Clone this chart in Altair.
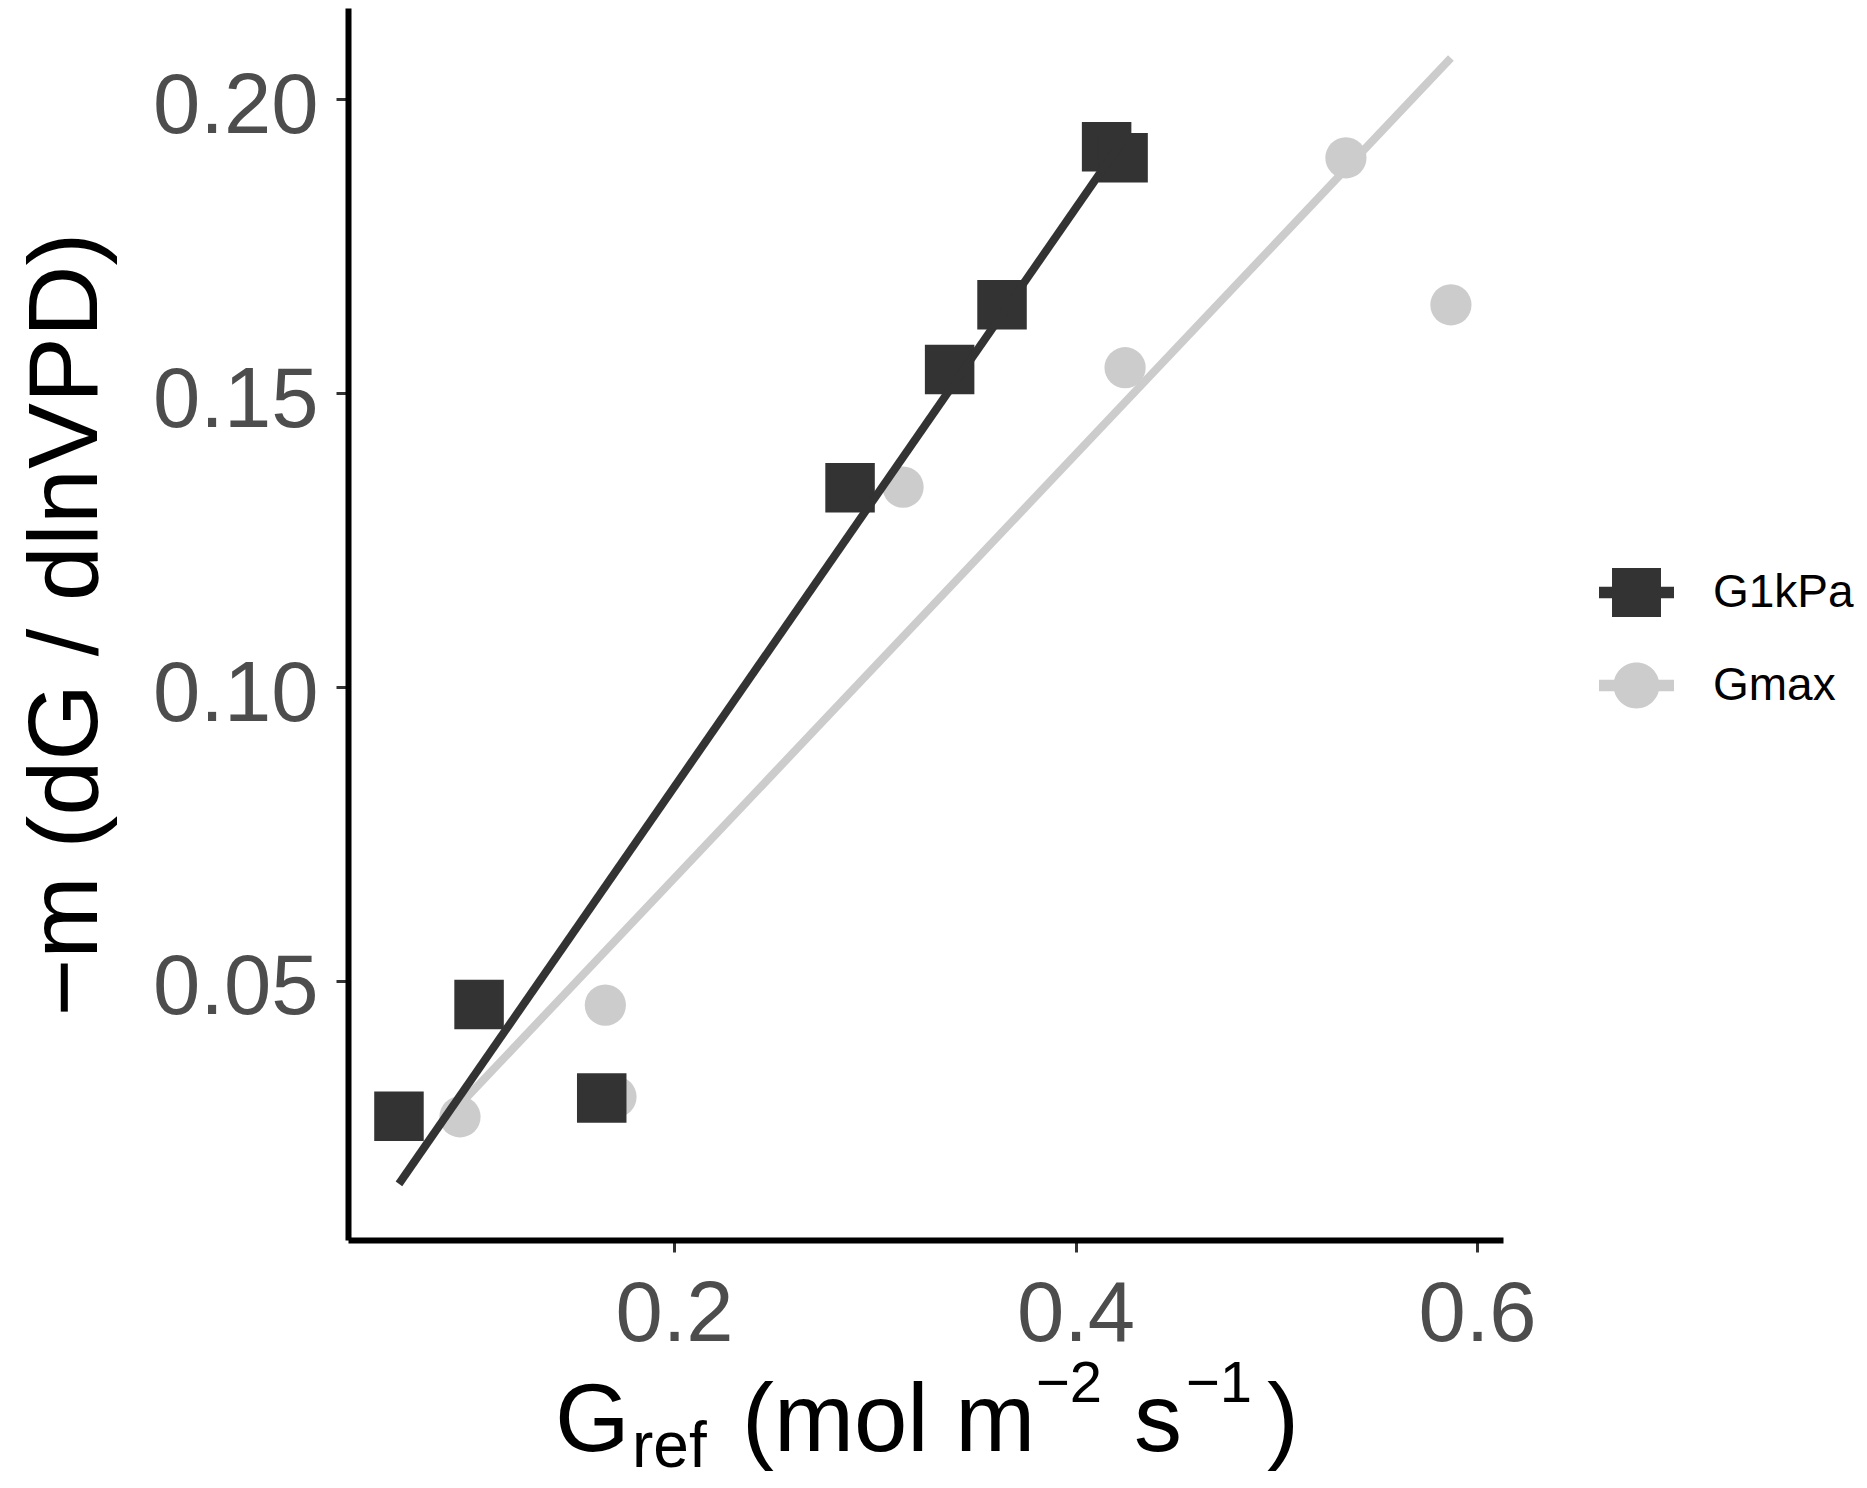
import altair as alt
import pandas as pd

# ---- data ----
series_names = ["G1kPa", "Gmax"]
g1kpa_x = [0.0630, 0.1029, 0.1640, 0.2877, 0.3373, 0.3634, 0.4155, 0.4237]
g1kpa_y = [0.0270, 0.0460, 0.0301, 0.1339, 0.1540, 0.1650, 0.1919, 0.1900]
gmax_x = [0.0934, 0.1658, 0.1711, 0.3141, 0.4247, 0.5347, 0.5870, 0.4155]
gmax_y = [0.0269, 0.0459, 0.0303, 0.1340, 0.1543, 0.1900, 0.1650, 0.1919]
x_ticks = [0.2, 0.4, 0.6]
y_ticks = [0.05, 0.10, 0.15, 0.20]
y_title = "\u2212m (dG / dlnVPD)"
x_title_parts = ["G", "ref", "(mol m", "\u22122", "s", "\u22121", ")"]

df = pd.DataFrame({
    "x": gmax_x + g1kpa_x,
    "y": gmax_y + g1kpa_y,
    "series": ["Gmax"] * len(gmax_x) + ["G1kPa"] * len(g1kpa_x),
})

FONT = "Liberation Sans"
DARK = "#333333"
LIGHT = "#CCCCCC"

xscale = alt.Scale(domain=[0.03761, 0.61295], nice=False, zero=False)
yscale = alt.Scale(domain=[0.00595, 0.21548], nice=False, zero=False)

xaxis = alt.Axis(values=x_ticks, format=".1f", title=None, grid=False,
                 labelFont=FONT, labelFontSize=85, labelColor="#4D4D4D",
                 labelBaseline="alphabetic", labelPadding=88,
                 labelFlush=False, labelOverlap=False,
                 tickSize=12, tickWidth=3, tickColor=DARK,
                 domainColor="black", domainWidth=6)
yaxis = alt.Axis(values=y_ticks, format=".2f", grid=False,
                 labelFont=FONT, labelFontSize=85, labelColor="#4D4D4D",
                 labelBaseline="alphabetic", labelOffset=33, labelPadding=18,
                 labelFlush=False, labelOverlap=False,
                 tickSize=12, tickWidth=3, tickColor=DARK,
                 domainColor="black", domainWidth=6,
                 title=y_title, titleFont=FONT, titleFontSize=99,
                 titleFontWeight="normal", titleColor="black",
                 titleAngle=270, titleX=-252, titleY=616,
                 titleAlign="center", titleBaseline="alphabetic")

X = alt.X("x:Q", scale=xscale, axis=xaxis)
Y = alt.Y("y:Q", scale=yscale, axis=yaxis)

base = alt.Chart(df)

gray_pts = base.transform_filter(alt.datum.series == "Gmax").mark_point(
    shape="circle", filled=True, size=1700, color=LIGHT, opacity=1, strokeWidth=0
).encode(x=X, y=Y)

black_pts = base.transform_filter(alt.datum.series == "G1kPa").mark_point(
    shape="square", filled=True, size=2450, color=DARK, opacity=1, strokeWidth=0
).encode(x=X, y=Y)

gray_line = base.transform_filter(alt.datum.series == "Gmax").transform_regression(
    "x", "y"
).mark_line(color=LIGHT, strokeWidth=8).encode(x=X, y=Y)

black_line = base.transform_filter(alt.datum.series == "G1kPa").transform_regression(
    "x", "y"
).mark_line(color=DARK, strokeWidth=8).encode(x=X, y=Y)

# legend symbols: point with a line through it (as in ggplot keys)
sq_path = "M-1,-0.155H1V0.155H-1Z M-0.653,-0.653H0.653V0.653H-0.653Z"
circ_path = ("M-1,-0.155H1V0.155H-1Z M-0.613,0 A0.613,0.613 0 1,1 0.613,0 "
             "A0.613,0.613 0 1,1 -0.613,0 Z")
leg = alt.Legend(title=None, orient="none", legendX=1251, legendY=547,
                 labelFont=FONT, labelFontSize=46, labelColor="black",
                 labelOffset=39, rowPadding=31, symbolSize=5625,
                 symbolStrokeWidth=0, padding=0)
legend_layer = base.transform_filter("false").mark_point(
    filled=True, opacity=1, size=5625, strokeWidth=0
).encode(
    x=X, y=Y,
    color=alt.Color("series:N", scale=alt.Scale(domain=series_names, range=[DARK, LIGHT]), legend=leg),
    shape=alt.Shape("series:N", scale=alt.Scale(domain=series_names, range=[sq_path, circ_path]), legend=leg),
)

# x-axis title with sub/superscripts, built from text pieces
part_x = [207, 284, 394, 688, 786, 838, 919]
part_y = [1443, 1459, 1443, 1394, 1443, 1394, 1443]
part_size = [96, 64, 96, 58, 96, 58, 96]
title_layers = []
for t, px, py, fs in zip(x_title_parts, part_x, part_y, part_size):
    title_layers.append(
        alt.Chart(alt.Data(values=[{"t": t}])).mark_text(
            align="left", baseline="alphabetic", font=FONT, fontSize=fs, color="black"
        ).encode(text="t:N", x=alt.value(px), y=alt.value(py))
    )

chart = alt.layer(gray_pts, black_pts, gray_line, black_line, legend_layer, *title_layers).properties(
    width=1155, height=1232,
    autosize=alt.AutoSizeParams(type="none"),
    padding={"left": 340, "top": 0, "right": 356, "bottom": 240},
    background="white",
).configure_view(stroke=None)

chart.save("out.html", embed_options={"renderer": "svg", "actions": False})
